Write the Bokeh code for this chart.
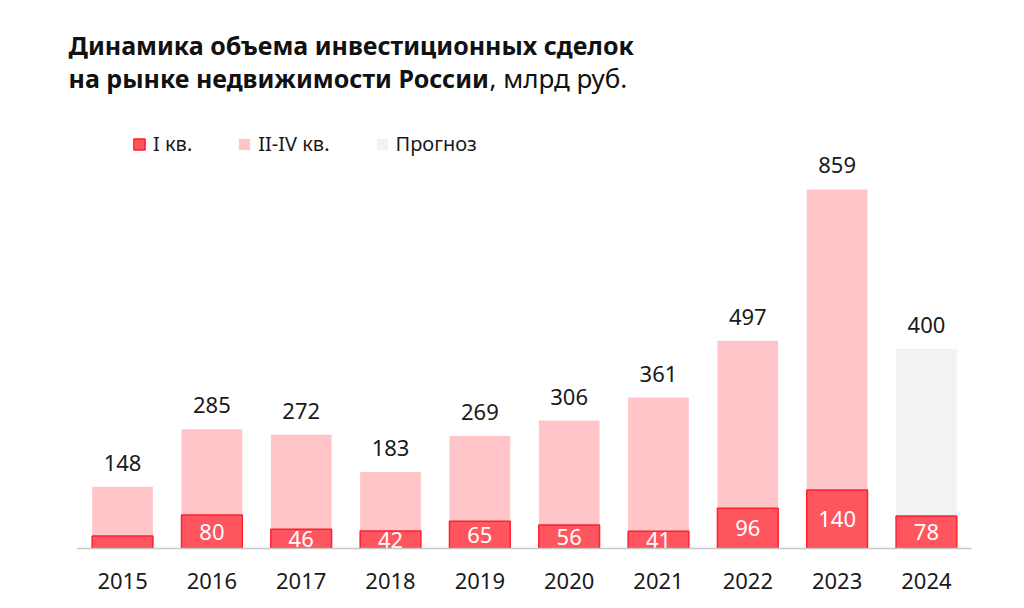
from bokeh.plotting import figure
from bokeh.models import ColumnDataSource, Label, Legend, LegendItem, Range1d
from bokeh.core.properties import value
from bokeh.embed import file_html
from bokeh.resources import INLINE

years = ["2015", "2016", "2017", "2018", "2019", "2020", "2021", "2022", "2023", "2024"]
q1 = [30, 80, 46, 42, 65, 56, 41, 96, 140, 78]
# bar heights as drawn in the picture (the 2024 forecast bar is drawn taller than its label)
bar_total = [148, 285, 272, 183, 269, 306, 361, 497, 859, 478]
total_labels = ["148", "285", "272", "183", "269", "306", "361", "497", "859", "400"]
q1_labels = ["", "80", "46", "42", "65", "56", "41", "96", "140", "78"]
is_forecast = [False] * 9 + [True]

FONT = "Noto Sans"

rest_top = [t if not f else q for t, q, f in zip(bar_total, q1, is_forecast)]
fc_top = [t if f else q for t, q, f in zip(bar_total, q1, is_forecast)]

src = ColumnDataSource(dict(
    x=years, q1=q1, total=bar_total, rest_top=rest_top, fc_top=fc_top,
    q1_mid=[v / 2 for v in q1], q1_lab=q1_labels, tot_lab=total_labels,
))

p = figure(x_range=years, y_range=Range1d(0, 1311), frame_width=920, frame_height=548,
           min_border_left=64, min_border_right=30, min_border_top=0, min_border_bottom=52,
           output_backend="svg", toolbar_location=None, background_fill_color="white",
           border_fill_color="white", outline_line_color=None)
p.x_range.range_padding = 0.15
p.x_range.range_padding_units = "absolute"

W = 0.68
r_rest = p.vbar(x="x", bottom="q1", top="rest_top", width=W, source=src,
                fill_color="#ffc5c9", line_color=None)
r_fc = p.vbar(x="x", bottom="q1", top="fc_top", width=W, source=src,
              fill_color="#f2f2f2", line_color=None)
r_q1 = p.vbar(x="x", bottom=0, top="q1", width=W, source=src,
              fill_color="#ff555e", line_color="#ff2030", line_width=1.5)

p.text(x="x", y="q1_mid", text="q1_lab", source=src, text_align="center",
       text_baseline="middle", text_color="white", text_font_size="22px",
       text_font=value(FONT))
p.text(x="x", y="total", text="tot_lab", source=src, text_align="center",
       text_baseline="bottom", y_offset=-16, text_color="#1a1a1a", text_font_size="22px",
       text_font=value(FONT))

p.xgrid.visible = False
p.ygrid.visible = False
p.yaxis.visible = False
ax = p.xaxis[0]
ax.bounds = (0, len(years))
ax.axis_line_color = "#c8c8c8"
ax.axis_line_width = 1.5
ax.major_tick_line_color = None
ax.minor_tick_line_color = None
ax.major_label_standoff = 18
ax.major_label_text_font = FONT
ax.major_label_text_font_size = "22px"
ax.major_label_text_color = "#1a1a1a"

legend = Legend(items=[
    LegendItem(label="I кв.", renderers=[r_q1]),
    LegendItem(label="II-IV кв.", renderers=[r_rest]),
    LegendItem(label="Прогноз", renderers=[r_fc]),
], orientation="horizontal", location=(68, 391), padding=0, margin=0, spacing=45,
   glyph_width=14, glyph_height=14, label_standoff=7, border_line_color=None,
   background_fill_alpha=0, label_text_font=FONT, label_text_font_size="20px",
   label_text_color="#1a1a1a")
p.add_layout(legend)

p.add_layout(Label(x=4, y=504, x_units="screen", y_units="screen",
                   text="Динамика объема инвестиционных сделок", text_font=FONT,
                   text_font_style="bold", text_font_size="25px", text_color="#111111",
                   text_baseline="alphabetic"))
p.add_layout(Label(x=4, y=471, x_units="screen", y_units="screen",
                   text="на рынке недвижимости России", text_font=FONT,
                   text_font_style="bold", text_font_size="25px", text_color="#111111",
                   text_baseline="alphabetic"))
p.add_layout(Label(x=425, y=471, x_units="screen", y_units="screen",
                   text=", млрд руб.", text_font=FONT,
                   text_font_size="26px", text_color="#111111",
                   text_baseline="alphabetic"))

open("out.html", "w").write(file_html(p, INLINE))
